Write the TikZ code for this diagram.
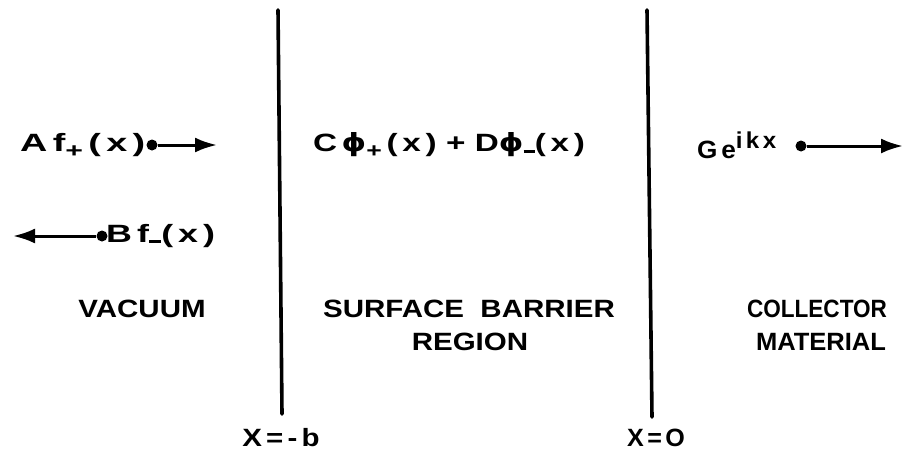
\documentclass[tikz,border=0pt]{standalone}
\usepackage{fontspec}
\usepackage{graphicx}
\setmainfont[FakeStretch=1.18]{Liberation Sans}
\newfontfamily\dvs[FakeStretch=1.1]{DejaVu Sans}
\usetikzlibrary{arrows.meta}
\newcommand{\subplus}{\raisebox{-6pt}{\fontsize{20}{20}\selectfont +}}
\newcommand{\subminus}{\raisebox{-1pt}{\rule{10pt}{3pt}}}
\newcommand{\myphi}{{\dvs\bfseries ϕ}}
\newcommand{\fitw}[2]{\resizebox{#1}{\height}{#2}}
\tikzset{
  lbl/.style={font=\fontsize{25}{33}\selectfont\bfseries, inner sep=0pt, text=black},
  wall/.style={line width=3.6pt, line cap=round},
  dotnode/.style={circle, fill=black, inner sep=0pt, minimum size=11pt},
  wave/.style={line width=3pt, -{Latex[length=22pt,width=15pt]}},
}
\begin{document}
\begin{tikzpicture}[x=1pt,y=-1pt]
\useasboundingbox (0,0) rectangle (904,458);
% walls
\draw[wall] (278,10) -- (282,414);
\draw[wall] (647,10) -- (652,417);
% vacuum
\node[lbl, anchor=west] (af) at (20,145) {\fitw{125pt}{A\,f\subplus\,(\,x\,)}};
\node[dotnode] (d1) at (152,145) {};
\coordinate (t1) at (217,145);
\draw[wave] (d1) -- (t1);
\node[dotnode] (d2) at (102,236) {};
\coordinate (t2) at (13,236);
\draw[wave] (d2) -- (t2);
\node[lbl, anchor=west] (bf) at (106,236) {\fitw{109pt}{B\,f\subminus(\,x\,)}};
% barrier
\node[lbl] (cd) at (449,145) {\fitw{272pt}{C\,\myphi\subplus\,(\,x\,)\,\,+\,\,D\myphi\subminus(\,x\,)}};
% collector
\node[lbl, anchor=west] (ge) at (697,145) {\fitw{79pt}{G\,e\raisebox{10pt}{\fontsize{23}{23}\selectfont i\,k\,x}}};
\node[dotnode] (d3) at (801,146) {};
\coordinate (t3) at (903,146);
\draw[wave] (d3) -- (t3);
% region labels
\node[lbl] (vac) at (142,309) {VACUUM};
\node[lbl] (sb) at (469,309) {SURFACE\ \ BARRIER};
\node[lbl] (rg) at (470,342) {REGION};
\node[lbl] (co) at (817,309) {\fitw{140pt}{COLLECTOR}};
\node[lbl] (ma) at (821,342) {\fitw{130pt}{MATERIAL}};
\node[lbl] (xb) at (281,438) {X\,=\,-\,b};
\node[lbl] (x0) at (656,438) {\fitw{58pt}{X\,=\,O}};
\end{tikzpicture}
\end{document}
